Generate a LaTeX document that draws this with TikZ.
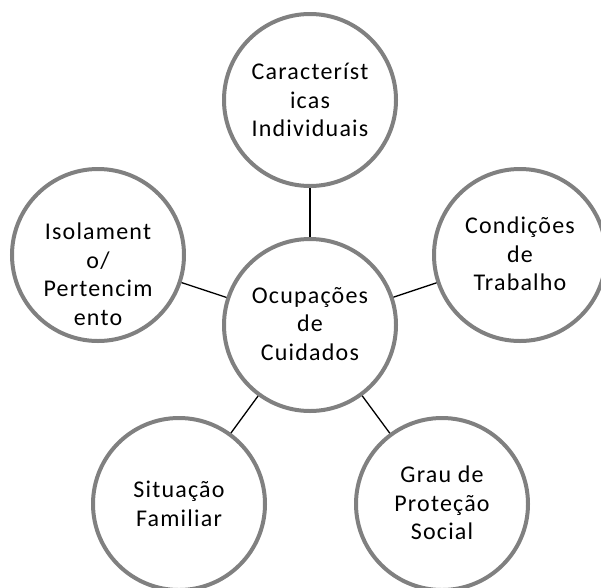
\documentclass[tikz,border=0pt]{standalone}
\usepackage{fontspec}
\setmainfont{Carlito}[LetterSpace=5]
\definecolor{ringgray}{RGB}{128,128,128}
\begin{document}
\begin{tikzpicture}[x=1pt,y=-1pt,
  bub/.style={circle, draw=ringgray, line width=4pt, fill=white, minimum size=172pt, inner sep=0pt, outer sep=2pt},
  txt/.style={align=center, inner sep=0pt, font=\fontsize{24pt}{28.5pt}\selectfont, text=black},
  conn/.style={draw=black, line width=1.3pt}]
\useasboundingbox (0,0) rectangle (601,587);
\node[bub] (c)  at (310,325) {};
\node[bub] (t)  at (310,100) {};
\node[bub] (r)  at (520,255) {};
\node[bub] (l)  at (98,255) {};
\node[bub] (bl) at (179,504) {};
\node[bub] (br) at (442,504) {};
\draw[conn] (c) -- (t);
\draw[conn] (c) -- (r);
\draw[conn] (c) -- (l);
\draw[conn] (c) -- (bl);
\draw[conn] (c) -- (br);
\node[txt] (ct) at (310,324) {Ocupações\\de\\Cuidados};
\node[txt] (tt) at (310,100) {Característ\\icas\\Individuais};
\node[txt] (rt) at (520,254) {Condições\\de\\Trabalho};
\node[txt] (lt) at (98,274) {Isolament\\o/\\Pertencim\\ento};
\node[txt] (blt) at (179,504) {Situação\\Familiar};
\node[txt] (brt) at (442,503) {Grau de\\Proteção\\Social};
\end{tikzpicture}
\end{document}
